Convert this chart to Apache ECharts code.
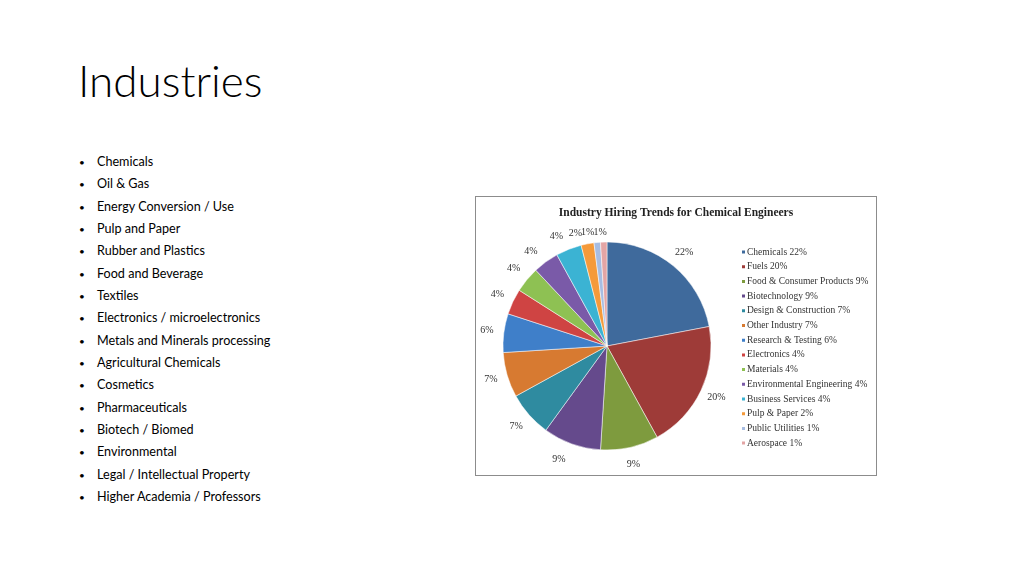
<!DOCTYPE html>
<html>
<head>
<meta charset="utf-8">
<script src="https://cdn.jsdelivr.net/npm/echarts@6/dist/echarts.min.js"></script>
<style>
	html, body { margin: 0; padding: 0; background: #fff; }
	#slide { position: relative; width: 1024px; height: 576px; overflow: hidden; font-family: Lato, "Open Sans", sans-serif; color: #000; }
	#title { position: absolute; left: 78px; top: 54px; font-size: 44px; font-weight: 300; }
	#bullets { position: absolute; left: 79px; top: 151px; margin: 0; padding: 0; list-style: none; font-size: 12.6px; }
	#bullets li { height: 22.33px; line-height: 22px; position: relative; padding-left: 18px; }
	#bullets li:before { content: "\2022"; position: absolute; left: 0; font-size: 10px; }
	#chartBox { position: absolute; left: 475px; top: 196px; width: 402px; height: 280px; box-sizing: border-box; border: 1.5px solid #8c8c8c; }
</style>
</head>
<body>
<div id="slide">
	<div id="title">Industries</div>
	<ul id="bullets"></ul>
	<div id="chartBox"></div>
</div>
<script>
var bulletItems = ["Chemicals", "Oil & Gas", "Energy Conversion / Use", "Pulp and Paper", "Rubber and Plastics",
	"Food and Beverage", "Textiles", "Electronics / microelectronics", "Metals and Minerals processing",
	"Agricultural Chemicals", "Cosmetics", "Pharmaceuticals", "Biotech / Biomed", "Environmental",
	"Legal / Intellectual Property", "Higher Academia / Professors"];

var industries = ["Chemicals", "Fuels", "Food & Consumer Products", "Biotechnology", "Design & Construction",
	"Other Industry", "Research & Testing", "Electronics", "Materials", "Environmental Engineering",
	"Business Services", "Pulp & Paper", "Public Utilities", "Aerospace"];
var shares = [22, 20, 9, 9, 7, 7, 6, 4, 4, 4, 4, 2, 1, 1];
var sliceColors = ["#3f6a9c", "#9e3b38", "#7e9b3e", "#654a8c", "#2f8ba0", "#d77a31", "#3f7fc9",
	"#cf4443", "#8ec153", "#7a5aa8", "#3bb3d3", "#f59a3a", "#a7bde2", "#e3a5a5"];

var ul = document.getElementById("bullets");
for(var i = 0; i < bulletItems.length; i++){
	var li = document.createElement("li");
	li.textContent = bulletItems[i];
	ul.appendChild(li);
}

var pieData = [];
for(var i = 0; i < industries.length; i++){
	pieData.push({ name: industries[i], value: shares[i] });
}

var serif = '"Liberation Serif", "DejaVu Serif", serif';
var theChart = echarts.init(document.getElementById("chartBox"));
var option = {
	animation: false,
	color: sliceColors,
	title: {
		text: "Industry Hiring Trends for Chemical Engineers",
		left: 'center',
		top: 5,
		textStyle: { fontFamily: serif, fontSize: 11.5, fontWeight: 'bold', color: '#222' }
	},
	legend: {
		orient: 'vertical',
		left: 264,
		top: 50,
		padding: 0,
		itemWidth: 5,
		itemHeight: 5,
		itemGap: 4.7,
		icon: 'rect',
		data: industries,
		formatter: function(name){
			return name + " " + shares[industries.indexOf(name)] + "%";
		},
		textStyle: { fontFamily: serif, fontSize: 9.5, lineHeight: 10, color: '#333', padding: [0, 0, 0, -4] }
	},
	series: [
		{
			type: 'pie',
			center: [131, 149],
			radius: ['0', 104],
			startAngle: 90,
			clockwise: true,
			avoidLabelOverlap: false,
			itemStyle: { borderColor: '#fff', borderWidth: 0.5 },
			label: {
				show: true,
				position: 'outside',
				formatter: '{c}%',
				fontFamily: serif,
				fontSize: 10,
				color: '#333'
			},
			labelLine: { show: false, length: 17, length2: 0 },
			labelLayout: function(params){
				var lay = { dx: 0, dy: 0 };
				// centre each label on the end of its (hidden) label line
				var pts = params.labelLinePoints;
				var r = params.labelRect;
				if(pts && pts.length){
					var end = pts[pts.length - 1];
					lay.dx = end[0] - (r.x + r.width / 2);
					lay.dy = end[1] - (r.y + r.height / 2);
				}
				// crowded labels get pushed aside a little, like Excel does
				var i = params.dataIndex;
				if(i == 3){ lay.dx += -7; }
				if(i == 9){ lay.dx += -5; lay.dy += 3; }
				if(i == 10){ lay.dx += -6; lay.dy += 3; }
				if(i == 11){ lay.dx += -9; lay.dy += 6; }
				if(i == 12){ lay.dx += -8; lay.dy += 7; }
				if(i == 13){ lay.dx += -3; lay.dy += 7; }
				return lay;
			},
			data: pieData
		}
	]
};
theChart.setOption(option);
</script>
</body>
</html>
